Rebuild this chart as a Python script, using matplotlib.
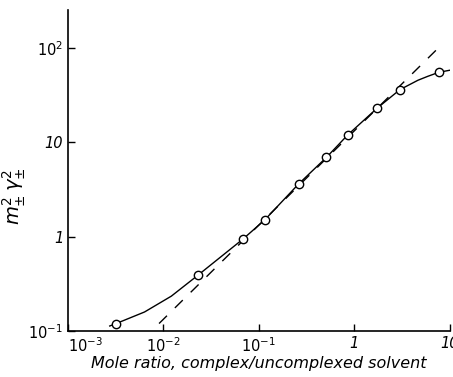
import numpy as np
import matplotlib.pyplot as plt

ratio = [0.0032, 0.023, 0.068, 0.115, 0.26, 0.51, 0.85, 1.74, 3.0, 7.7]
activity = [0.12, 0.39, 0.94, 1.5, 3.6, 6.9, 11.9, 23, 36, 55]

# smooth curve drawn through the points
curve_x = [0.00274, 0.0032, 0.00634, 0.0121, 0.023, 0.068, 0.115, 0.26,
           0.51, 0.85, 1.74, 3.0, 4.64, 5.9, 7.7, 10]
curve_y = [0.113, 0.12, 0.159, 0.234, 0.39, 0.94, 1.5, 3.6,
           6.9, 11.9, 23, 36, 45.3, 49.9, 55, 57.8]

# limiting straight line
dash_x = [0.009, 8.0]
dash_y = [0.12, 105]

plt.rcParams["mathtext.default"] = "it"

fig = plt.figure(figsize=(4.53, 3.77), dpi=100)
ax = fig.add_axes([0.150, 0.122, 0.843, 0.851])

ax.plot(curve_x, curve_y, color="black", lw=1.0)
ax.plot(dash_x, dash_y, color="black", lw=1.0, ls=(0, (8, 8)))
ax.plot(ratio, activity, "o", mfc="white", mec="black", mew=1.0, ms=6)

ax.set_xscale("log")
ax.set_yscale("log")
ax.set_xlim(1e-3, 10)
ax.set_ylim(0.1, 250)

for s in ["top", "right"]:
    ax.spines[s].set_visible(False)
ax.spines["left"].set_linewidth(1.2)
ax.spines["bottom"].set_linewidth(1.2)

ax.set_xticks([1e-3, 1e-2, 1e-1, 1, 10])
ax.set_xticklabels([r"$10^{-3}$", r"$10^{-2}$", r"$10^{-1}$", "1", "10"])
ax.set_yticks([0.1, 1, 10, 100])
ax.set_yticklabels([r"$10^{-1}$", "1", "10", r"$10^{2}$"])
ax.minorticks_off()
ax.tick_params(direction="in", length=5, width=1.0, labelsize=10.5)
for lab in ax.get_xticklabels() + ax.get_yticklabels():
    lab.set_fontstyle("italic")
ax.get_xticklabels()[0].set_horizontalalignment("left")

ax.set_xlabel("Mole ratio, complex/uncomplexed solvent", fontsize=11.5,
              fontstyle="italic", labelpad=1)
ax.set_ylabel(r"$m_{\pm}^{2}\,\gamma_{\pm}^{2}$", fontsize=14)
ax.yaxis.set_label_coords(-0.105, 0.42)

fig.savefig("out.png", dpi=100)
